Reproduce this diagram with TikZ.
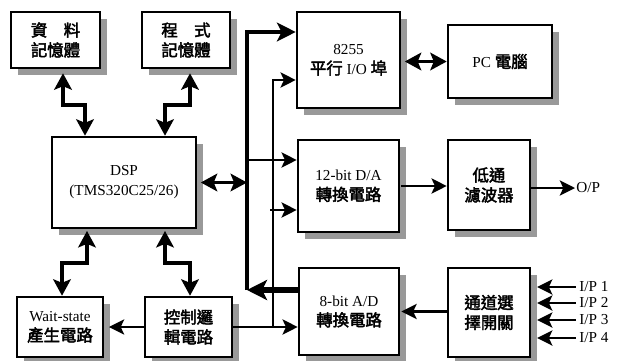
\documentclass[tikz,border=0pt]{standalone}
\usepackage{fontspec}
\setmainfont{Liberation Serif}
\newfontfamily\cjk[FakeBold=2.5]{Noto Sans CJK TC}
\usepackage{tikz}
\usetikzlibrary{positioning, arrows.meta, calc, shapes}
\newcommand{\zh}[1]{{\cjk\fontsize{14}{17}\selectfont #1}}
\tikzset{
    block/.style={
        rectangle,
        draw,
        line width=2.2pt,
        fill=white,
        align=center,
        inner sep=0pt,
        font=\fontsize{13}{17}\selectfont
    },
    shadow box/.style={
        fill=black!40,
        draw=none
    },
    link/.style={
        line width=1.8pt,
        -{Stealth[length=13pt, width=13pt, inset=3pt]}
    },
    bus/.style={
        line width=3.4pt,
        -{Stealth[length=16pt, width=16pt, inset=4pt]}
    },
    dbl/.style={
        line width=3pt,
        {Stealth[length=14pt, width=15pt, inset=3pt]}-{Stealth[length=14pt, width=15pt, inset=3pt]}
    },
    label/.style={
        font=\fontsize{13}{15}\selectfont,
        anchor=west,
        inner sep=1pt
    }
}

\begin{document}
\begin{tikzpicture}[x=0.03cm, y=-0.03cm]
    \useasboundingbox (0,0) rectangle (621,360);

    % shadows first: box corners in pixels, moved 7 right and 7 down
    \fill[shadow box] (18,19) rectangle (107,75);
    \fill[shadow box] (149,19) rectangle (237,75);
    \fill[shadow box] (304,19) rectangle (407,115);
    \fill[shadow box] (455,32) rectangle (559,105);
    \fill[shadow box] (59,144) rectangle (203,235);
    \fill[shadow box] (305,147) rectangle (406,239);
    \fill[shadow box] (455,147) rectangle (537,237);
    \fill[shadow box] (24,304) rectangle (110,364);
    \fill[shadow box] (152,304) rectangle (239,364);
    \fill[shadow box] (306,275) rectangle (406,362);
    \fill[shadow box] (455,275) rectangle (537,364);

    % blocks
    \node[block, minimum width=2.67cm, minimum height=1.68cm] (datamem) at (55.5,40) {\zh{資\quad 料}\\\zh{記憶體}};
    \node[block, minimum width=2.64cm, minimum height=1.68cm] (progmem) at (186,40) {\zh{程\quad 式}\\\zh{記憶體}};
    \node[block, minimum width=3.09cm, minimum height=2.88cm] (pio) at (348.5,60) {8255\\\zh{平行} I/O \zh{埠}};
    \node[block, minimum width=3.12cm, minimum height=2.19cm] (pc) at (500,61.5) {PC \zh{電腦}};
    \node[block, minimum width=4.32cm, minimum height=2.73cm] (dsp) at (124,182.5) {DSP\\(TMS320C25/26)};
    \node[block, minimum width=3.03cm, minimum height=2.76cm] (dac) at (348.5,186) {12-bit D/A\\\zh{轉換電路}};
    \node[block, minimum width=2.46cm, minimum height=2.7cm] (lpf) at (489,185) {\zh{低通}\\\zh{濾波器}};
    \node[block, minimum width=2.58cm, minimum height=1.8cm] (wait) at (60,327) {Wait-state\\\zh{產生電路}};
    \node[block, minimum width=2.61cm, minimum height=1.8cm] (ctrl) at (188.5,327) {\zh{控制邏}\\\zh{輯電路}};
    \node[block, minimum width=3.0cm, minimum height=2.61cm] (adc) at (349,311.5) {8-bit A/D\\\zh{轉換電路}};
    \node[block, minimum width=2.46cm, minimum height=2.67cm] (mux) at (489,312.5) {\zh{通道選}\\\zh{擇開關}};

    % outer labels
    \node[label] (op) at (575,188) {O/P};
    \node[label] (ip1) at (578,287) {I/P 1};
    \node[label] (ip2) at (578,303) {I/P 2};
    \node[label] (ip3) at (578,320) {I/P 3};
    \node[label] (ip4) at (578,338) {I/P 4};

    % bends and bus ends
    \coordinate (m1) at (63,105);
    \coordinate (d1) at (85,105);
    \coordinate (m2) at (190,105);
    \coordinate (d2) at (165,105);
    \coordinate (d3) at (87,263);
    \coordinate (w1) at (62,263);
    \coordinate (d4) at (165,263);
    \coordinate (c1) at (190,263);
    \coordinate (busAtop) at (247,32);
    \coordinate (busAbot) at (247,290);
    \coordinate (busBtop) at (273,80);
    \coordinate (busBbot) at (273,327);
    \coordinate (daA) at (247,160);
    \coordinate (daB) at (270,210);

    % memories and DSP
    \draw[dbl] ([yshift=-0.12cm]datamem.south -| m1) -- (m1) -- (d1) -- (dsp.north -| d1);
    \draw[dbl] ([yshift=-0.12cm]progmem.south -| m2) -- (m2) -- (d2) -- (dsp.north -| d2);
    \draw[dbl] ([yshift=-0.05cm]dsp.south -| d3) -- (d3) -- (w1) -- (wait.north -| w1);
    \draw[dbl] ([yshift=-0.05cm]dsp.south -| d4) -- (d4) -- (c1) -- (ctrl.north -| c1);

    % buses
    \draw[bus] (busAbot) -- (busAtop) -- (busAtop -| pio.west);
    \draw[link] (busBbot) -- (busBtop) -- (busBtop -| pio.west);
    \draw[link] (daA) -- (daA -| dac.west);
    \draw[link] (daB) -- (daB -| dac.west);
    \draw[dbl, shorten <=3pt] (dsp.east) -- (dsp.east -| busAtop);
    \draw[line width=4.4pt, -{Stealth[length=17pt, width=17pt, inset=4pt]}] (adc.west |- busAbot) -- (busAbot);
    \draw[link] (ctrl.east) -- (ctrl.east -| adc.west);
    \draw[link, shorten >=4pt] (ctrl.west) -- (wait.east);

    % signal path
    \draw[dbl, shorten <=3pt] (pio.east |- pc.west) -- (pc.west);
    \draw[link, shorten <=1pt] (dac.east) -- (dac.east -| lpf.west);
    \draw[link] (lpf.east |- op.west) -- (op.west);
    \draw[link, shorten >=1pt] (mux.west |- adc.east) -- (adc.east);
    \foreach \ip in {ip1, ip2, ip3, ip4}
        \draw[link, shorten >=5pt, shorten <=2pt] (\ip.west) -- (\ip.west -| mux.east);
\end{tikzpicture}
\end{document}
